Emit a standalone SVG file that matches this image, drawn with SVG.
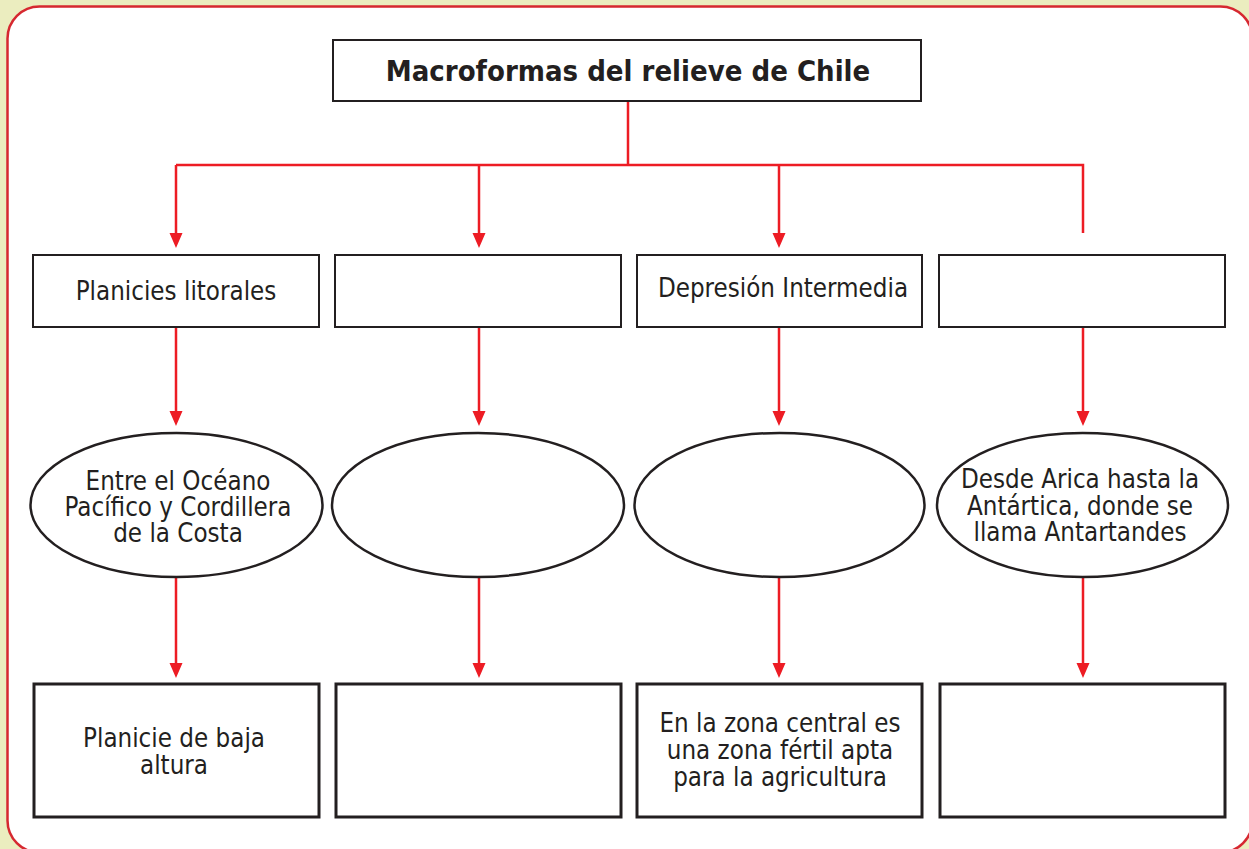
<svg xmlns="http://www.w3.org/2000/svg" width="1249" height="849" viewBox="0 0 1249 849">
<defs>
<style>
.box{fill:#fff;stroke:#231f20;stroke-width:2}
.bbox{fill:#fff;stroke:#231f20;stroke-width:3}
.ell{fill:#fff;stroke:#231f20;stroke-width:2.5}
.con{fill:none;stroke:#ed1c24;stroke-width:2.5}
.ah{fill:#ed1c24}
.t{font-family:"DejaVu Sans Condensed","DejaVu Sans",sans-serif;font-size:25.7px;fill:#231f20;text-anchor:middle}
.title{font-family:"DejaVu Sans Condensed","DejaVu Sans",sans-serif;font-size:29px;font-weight:bold;fill:#231f20;text-anchor:middle}
</style>
</defs>
<rect x="0" y="0" width="1249" height="849" fill="#ebedbf"/>
<rect x="7.5" y="6.5" width="1245" height="846" rx="32" ry="32" fill="#fff" stroke="#d62830" stroke-width="2.5"/>

<g id="connectors">
<path class="con" d="M628 101 V165 M176 165 H1083 V233"/>
<path class="con" d="M176 165 V233 M479 165 V233 M779 165 V233"/>
<path class="ah" d="M169.5 233 H182.5 L176 248 Z M472.5 233 H485.5 L479 248 Z M772.5 233 H785.5 L779 248 Z"/>
<path class="con" d="M176 327 V412 M479 327 V412 M779 327 V412 M1083 327 V412"/>
<path class="ah" d="M169.5 411 H182.5 L176 426 Z M472.5 411 H485.5 L479 426 Z M772.5 411 H785.5 L779 426 Z M1076.5 411 H1089.5 L1083 426 Z"/>
<path class="con" d="M176 577 V664 M479 577 V664 M779 577 V664 M1083 577 V664"/>
<path class="ah" d="M169.5 663 H182.5 L176 678 Z M472.5 663 H485.5 L479 678 Z M772.5 663 H785.5 L779 678 Z M1076.5 663 H1089.5 L1083 678 Z"/>
</g>

<g id="title">
<rect class="box" x="333" y="40" width="588" height="61"/>
<text class="title" x="628" y="81">Macroformas del relieve de Chile</text>
</g>

<g id="planicies">
<rect class="box" x="33" y="255" width="286" height="72"/>
<text class="t" x="176" y="300">Planicies litorales</text>
</g>
<g id="box2">
<rect class="box" x="335" y="255" width="286" height="72"/>
</g>
<g id="depresion">
<rect class="box" x="637" y="255" width="285" height="72"/>
<text class="t" x="783" y="297">Depresión Intermedia</text>
</g>
<g id="box4">
<rect class="box" x="939" y="255" width="286" height="72"/>
</g>

<g id="ell1">
<ellipse class="ell" cx="176.5" cy="505" rx="146" ry="72"/>
<text class="t" x="178" y="490">Entre el Océano</text>
<text class="t" x="178" y="516">Pacífico y Cordillera</text>
<text class="t" x="178" y="542">de la Costa</text>
</g>
<g id="ell2">
<ellipse class="ell" cx="478" cy="505" rx="146" ry="72"/>
</g>
<g id="ell3">
<ellipse class="ell" cx="779.5" cy="505" rx="145" ry="72"/>
</g>
<g id="ell4">
<ellipse class="ell" cx="1082.5" cy="505" rx="145.5" ry="72"/>
<text class="t" x="1080" y="488">Desde Arica hasta la</text>
<text class="t" x="1080" y="515">Antártica, donde se</text>
<text class="t" x="1080" y="541">llama Antartandes</text>
</g>

<g id="bottom1">
<rect class="bbox" x="34" y="684" width="285" height="133"/>
<text class="t" x="174" y="747">Planicie de baja</text>
<text class="t" x="174" y="774">altura</text>
</g>
<g id="bottom2">
<rect class="bbox" x="336" y="684" width="285" height="133"/>
</g>
<g id="bottom3">
<rect class="bbox" x="637" y="684" width="285" height="133"/>
<text class="t" x="780" y="732">En la zona central es</text>
<text class="t" x="780" y="759">una zona fértil apta</text>
<text class="t" x="780" y="786">para la agricultura</text>
</g>
<g id="bottom4">
<rect class="bbox" x="940" y="684" width="285" height="133"/>
</g>
</svg>
